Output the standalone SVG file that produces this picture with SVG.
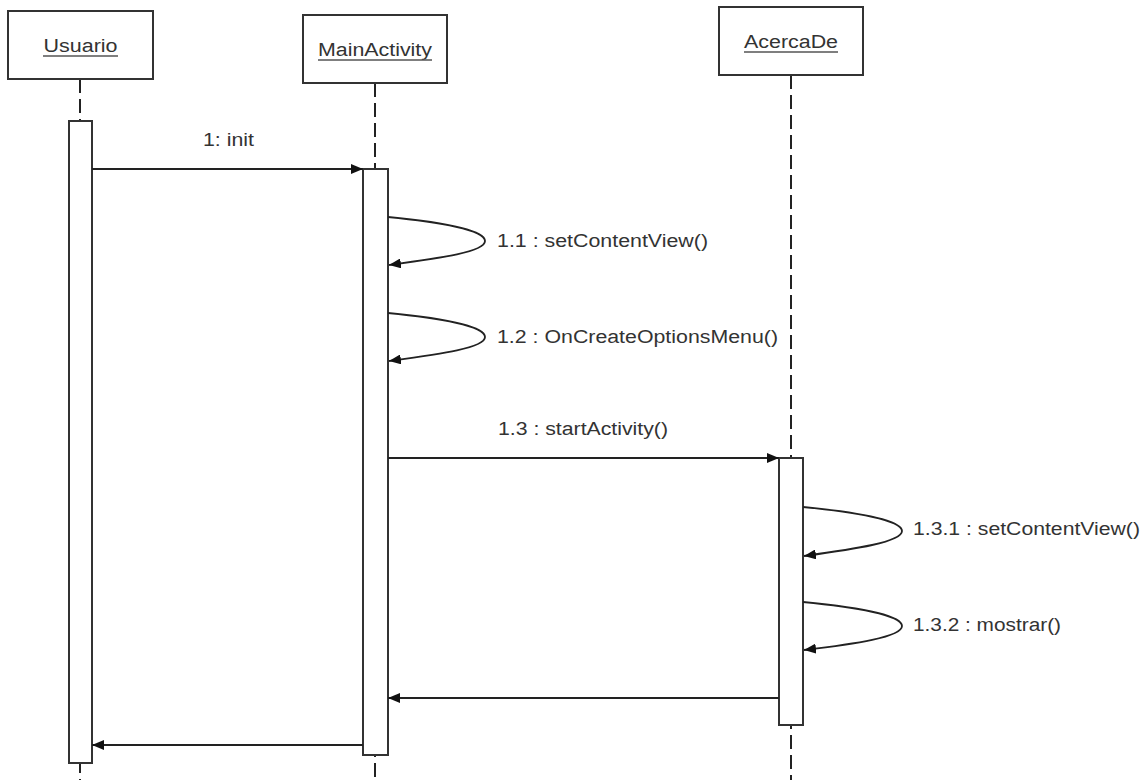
<svg xmlns="http://www.w3.org/2000/svg" width="1148" height="780" viewBox="0 0 1148 780">
<defs>
<style>
.box{fill:#fff;stroke:#333;stroke-width:2}
.act{fill:#fff;stroke:#333;stroke-width:2}
.life{stroke:#222;stroke-width:2;stroke-dasharray:14 6;fill:none}
.msg{stroke:#222;stroke-width:1.8;fill:none}
.t{font-family:"Liberation Sans",Arial,sans-serif;font-size:18px;fill:#333}
.ul{stroke:#555;stroke-width:1.5}
</style>
<marker id="ah" viewBox="0 0 12 10" refX="12" refY="5" markerWidth="12" markerHeight="10" markerUnits="userSpaceOnUse" orient="auto">
<path d="M0,0 L12,5 L0,10 Z" fill="#111"/>
</marker>
</defs>
<rect width="1148" height="780" fill="#fff"/>
<g id="lifelines">
<line class="life" x1="80" y1="79" x2="80" y2="780"/>
<line class="life" x1="375" y1="83" x2="375" y2="780"/>
<line class="life" x1="791" y1="75" x2="791" y2="780"/>
</g>
<g id="usuario">
<rect class="box" x="8" y="11" width="145" height="68"/>
<text class="t" x="80.5" y="52" text-anchor="middle" textLength="74" lengthAdjust="spacingAndGlyphs">Usuario</text>
<line class="ul" x1="43" y1="56" x2="118" y2="56"/>
<rect class="act" x="69" y="121" width="23" height="642"/>
</g>
<g id="mainactivity">
<rect class="box" x="303" y="15" width="144" height="68"/>
<text class="t" x="375" y="56" text-anchor="middle" textLength="114" lengthAdjust="spacingAndGlyphs">MainActivity</text>
<line class="ul" x1="318" y1="60" x2="432" y2="60"/>
<rect class="act" x="363" y="169" width="25" height="586"/>
</g>
<g id="acercade">
<rect class="box" x="719" y="7" width="144" height="68"/>
<text class="t" x="791" y="48" text-anchor="middle" textLength="94" lengthAdjust="spacingAndGlyphs">AcercaDe</text>
<line class="ul" x1="744" y1="52" x2="838" y2="52"/>
<rect class="act" x="779" y="458" width="24" height="267"/>
</g>
<g id="connectors">
<line class="msg" x1="92" y1="169" x2="363" y2="169" marker-end="url(#ah)"/>
<path class="msg" d="M388,217 C440,222 485,230 485,241 C485,252 440,258 389,265" marker-end="url(#ah)"/>
<path class="msg" d="M388,313 C440,318 485,326 485,337 C485,348 440,354 389,361" marker-end="url(#ah)"/>
<line class="msg" x1="388" y1="458" x2="779" y2="458" marker-end="url(#ah)"/>
<path class="msg" d="M803,507 C855,512 902,520 902,531 C902,542 855,549 804,556" marker-end="url(#ah)"/>
<path class="msg" d="M803,602 C855,607 902,615 902,626 C902,637 855,644 804,650" marker-end="url(#ah)"/>
<line class="msg" x1="779" y1="698" x2="388" y2="698" marker-end="url(#ah)"/>
<line class="msg" x1="363" y1="745" x2="92" y2="745" marker-end="url(#ah)"/>
</g>
<g id="labels">
<text class="t" x="203" y="146" textLength="51" lengthAdjust="spacingAndGlyphs">1: init</text>
<text class="t" x="497" y="247" textLength="211" lengthAdjust="spacingAndGlyphs">1.1 : setContentView()</text>
<text class="t" x="497" y="343" textLength="281" lengthAdjust="spacingAndGlyphs">1.2 : OnCreateOptionsMenu()</text>
<text class="t" x="498" y="435" textLength="170" lengthAdjust="spacingAndGlyphs">1.3 : startActivity()</text>
<text class="t" x="913" y="535" textLength="227" lengthAdjust="spacingAndGlyphs">1.3.1 : setContentView()</text>
<text class="t" x="913" y="631" textLength="148" lengthAdjust="spacingAndGlyphs">1.3.2 : mostrar()</text>
</g>
</svg>
